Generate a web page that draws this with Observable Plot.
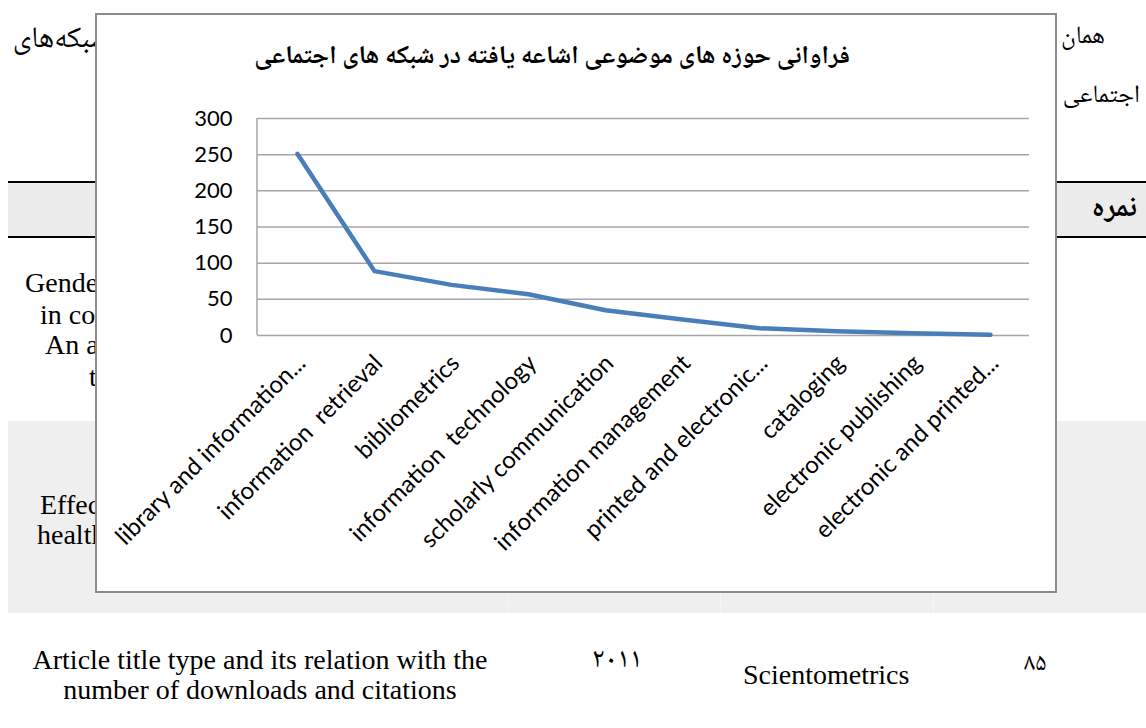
<!DOCTYPE html>
<html>
<head>
<meta charset="utf-8">
<script src="https://cdn.jsdelivr.net/npm/d3@7"></script>
<script src="https://cdn.jsdelivr.net/npm/@observablehq/plot@0.6"></script>
<style>
  html, body { margin: 0; padding: 0; background: #fff; }
  #page { position: relative; width: 1146px; height: 728px; overflow: hidden; background: #fff; }
  .ser { position: absolute; font-family: "Liberation Serif", "Times New Roman", serif; font-size: 28px; color: #000; white-space: nowrap; line-height: 30px; }
  .fa { position: absolute; font-family: "Noto Naskh Arabic", "Noto Sans Arabic", "DejaVu Sans", sans-serif; font-size: 25px; color: #000; white-space: nowrap; direction: rtl; line-height: 32px; }
  .band { position: absolute; left: 8px; right: 0; background: #ececec; }
  .hline { position: absolute; left: 8px; right: 0; height: 2px; background: #000; }
  .vsep { position: absolute; width: 1px; background: #f6f6f6; }
  #box { position: absolute; left: 95px; top: 13px; width: 962px; height: 580px; box-sizing: border-box; border: 2px solid #8c8c8c; background: #fff; z-index: 5; }
  #title { position: absolute; top: 27px; right: 205px; font-family: "Noto Naskh Arabic", "Noto Sans Arabic", "DejaVu Sans", sans-serif; font-weight: bold; font-size: 25.7px; direction: rtl; white-space: nowrap; line-height: 32px; color: #000; }
  #plot { position: absolute; left: 0; top: 88px; }
  #plot svg text { white-space: pre; }
</style>
</head>
<body>
<div id="page">
  <!-- background document -->
  <div class="fa" style="right:41px; top:22px;">همان</div>
  <div class="fa" style="right:6px; top:81px;">اجتماعی</div>
  <div class="fa" style="right:1036px; top:23px; font-size:30px; line-height:36px;">شبکه‌های</div>

  <div class="band" style="top:182px; height:55px;"></div>
  <div class="hline" style="top:181px;"></div>
  <div class="hline" style="top:236px;"></div>
  <div class="fa" style="right:9px; top:192px; font-weight:bold; font-size:30px; line-height:36px;">نمره</div>

  <div class="ser" style="left:25px; top:268px;">Gender</div>
  <div class="ser" style="left:40px; top:300px;">in co</div>
  <div class="ser" style="left:45px; top:330px;">An a</div>
  <div class="ser" style="left:89px; top:362px;">t</div>

  <div class="band" style="top:421px; height:192px; background:#efefef;"></div>
  <div class="vsep" style="left:508px; top:421px; height:192px;"></div>
  <div class="vsep" style="left:720px; top:421px; height:192px;"></div>
  <div class="vsep" style="left:933px; top:421px; height:192px;"></div>
  <div class="ser" style="left:40px; top:490px;">Effect</div>
  <div class="ser" style="left:37px; top:520px;">health</div>

  <div class="ser" style="left:13px; top:645px; width:494px; text-align:center;">Article title type and its relation with the<br>number of downloads and citations</div>
  <div class="fa" style="left:592px; top:645px; direction:ltr; font-size:28px;">۲۰۱۱</div>
  <div class="ser" style="left:743px; top:660px;">Scientometrics</div>
  <div class="fa" style="left:1024px; top:649px; direction:ltr;">۸۵</div>

  <!-- chart -->
  <div id="box">
    <div id="title"></div>
    <div id="plot"></div>
  </div>
</div>
<script>
const titleText = "فراوانی حوزه های موضوعی اشاعه یافته در شبکه های اجتماعی";
const categories = [
  "library and information...",
  "information  retrieval",
  "bibliometrics",
  "information  technology",
  "scholarly communication",
  "information management",
  "printed and electronic...",
  "cataloging",
  "electronic publishing",
  "electronic and printed..."
];
const counts = [251, 89, 70, 57, 35, 22, 10, 6, 3, 1];
const yTicks = [0, 50, 100, 150, 200, 250, 300];

document.getElementById("title").textContent = titleText;

const data = categories.map((c, i) => ({category: c, count: counts[i]}));

const leftLine = (index, scales, values, dimensions) => {
  const {marginLeft, marginTop, height, marginBottom} = dimensions;
  const l = document.createElementNS("http://www.w3.org/2000/svg", "line");
  l.setAttribute("x1", marginLeft);
  l.setAttribute("x2", marginLeft);
  l.setAttribute("y1", marginTop);
  l.setAttribute("y2", height - marginBottom);
  l.setAttribute("stroke", "#a6a6a6");
  l.setAttribute("stroke-width", 1.5);
  return l;
};

const chart = Plot.plot({
  width: 958,
  height: 486,
  marginLeft: 160,
  marginRight: 26,
  marginTop: 15,
  marginBottom: 254,
  style: {fontFamily: "Lato, 'Open Sans', sans-serif", fontSize: "22px", color: "#000", background: "transparent", overflow: "visible"},
  x: {type: "point", domain: categories, padding: 0.5, label: null},
  y: {domain: [0, 300], label: null},
  marks: [
    Plot.ruleY(yTicks, {stroke: "#a6a6a6", strokeWidth: 1.5}),
    leftLine,
    Plot.axisY({ticks: yTicks, tickSize: 0, tickPadding: 25, fontSize: 22, label: null}),
    Plot.axisX({tickSize: 0, tickRotate: -45, textAnchor: "end", fontSize: 24, dx: 4, dy: 12, label: null}),
    Plot.line(data, {x: "category", y: "count", stroke: "#4a7ebb", strokeWidth: 4.5, strokeLinejoin: "round", strokeLinecap: "round"})
  ]
});
document.getElementById("plot").appendChild(chart);
</script>
</body>
</html>
